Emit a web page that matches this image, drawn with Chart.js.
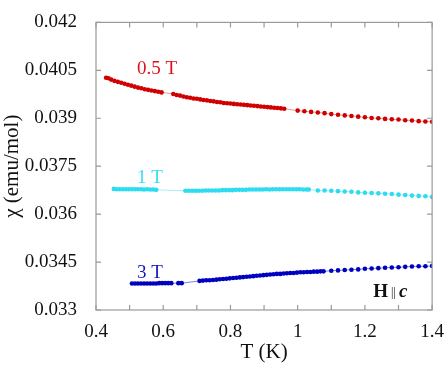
<!DOCTYPE html>
<html>
<head>
<meta charset="utf-8">
<script src="https://cdn.jsdelivr.net/npm/chart.js@4/dist/chart.umd.min.js"></script>
<style>
  body { margin: 0; background: #fff; }
</style>
</head>
<body>
<canvas id="micanvas" width="447" height="365"></canvas>
<script>
// T (K) and chi (emu/mol)
let t05 = [0.430, 0.437, 0.445, 0.455, 0.465, 0.475, 0.485, 0.495, 0.505, 0.515, 0.525, 0.535, 0.545, 0.555, 0.565, 0.575, 0.585, 0.595,
  0.63, 0.64, 0.65, 0.66, 0.67, 0.68, 0.69, 0.70, 0.71, 0.72, 0.73, 0.74, 0.75, 0.76, 0.77, 0.78, 0.79, 0.80, 0.81, 0.82, 0.83, 0.84,
  0.85, 0.86, 0.87, 0.88, 0.89, 0.90, 0.91, 0.92, 0.93, 0.94, 0.95, 0.96,
  1.00, 1.02, 1.04, 1.06, 1.08, 1.10, 1.12, 1.14, 1.16, 1.18, 1.20, 1.22, 1.24, 1.26, 1.28, 1.30, 1.32, 1.34, 1.36, 1.38, 1.40]
let chi05 = [0.04027, 0.04025, 0.04021, 0.04017, 0.04014, 0.04011, 0.04008, 0.04005, 0.04002, 0.03999, 0.03996, 0.03994, 0.03991, 0.03989, 0.03987, 0.03985, 0.03983, 0.03981,
  0.03976, 0.03973, 0.03971, 0.03968, 0.03966, 0.03964, 0.03962, 0.03961, 0.03959, 0.03957, 0.03956, 0.03954, 0.03953, 0.03951, 0.03950, 0.03948, 0.03947, 0.03946, 0.03945, 0.03944, 0.03943, 0.03942,
  0.03941, 0.03940, 0.03939, 0.03938, 0.03937, 0.03936, 0.03935, 0.03934, 0.03933, 0.03932, 0.03931, 0.03930,
  0.03924, 0.03922, 0.03920, 0.03918, 0.03916, 0.03913, 0.03911, 0.03909, 0.03907, 0.03905, 0.03903, 0.03901, 0.03900, 0.03898, 0.03897, 0.03896, 0.03894, 0.03893, 0.03891, 0.03890, 0.03889]

let t1 = [0.453, 0.462, 0.471, 0.480, 0.489, 0.498, 0.507, 0.516, 0.525, 0.534, 0.543, 0.552, 0.561, 0.570, 0.579,
  0.666, 0.676, 0.686, 0.696, 0.706, 0.716, 0.726, 0.736, 0.746, 0.756, 0.766, 0.776, 0.786, 0.796, 0.806, 0.816, 0.826, 0.836, 0.846,
  0.856, 0.866, 0.876, 0.886, 0.896, 0.906, 0.916, 0.926, 0.936, 0.946, 0.956, 0.966, 0.976, 0.986, 0.996, 1.006, 1.016, 1.026, 1.033,
  1.06, 1.08, 1.10, 1.12, 1.14, 1.16, 1.18, 1.20, 1.22, 1.24, 1.26, 1.28, 1.30, 1.32, 1.34, 1.36, 1.38, 1.40]
let chi1 = [0.03679, 0.03678, 0.03678, 0.03678, 0.03678, 0.03678, 0.03678, 0.03678, 0.03678, 0.03678, 0.03677, 0.03678, 0.03677, 0.03677, 0.03676,
  0.03673, 0.03673, 0.03673, 0.03673, 0.03673, 0.03673, 0.03674, 0.03674, 0.03674, 0.03674, 0.03674, 0.03675, 0.03675, 0.03675, 0.03675, 0.03676, 0.03676, 0.03676, 0.03676,
  0.03677, 0.03677, 0.03677, 0.03677, 0.03677, 0.03678, 0.03677, 0.03678, 0.03678, 0.03678, 0.03678, 0.03678, 0.03678, 0.03678, 0.03678, 0.03678, 0.03677, 0.03677, 0.03677,
  0.03674, 0.03674, 0.03673, 0.03672, 0.03671, 0.03670, 0.03668, 0.03667, 0.03666, 0.03665, 0.03664, 0.03663, 0.03661, 0.03660, 0.03658, 0.03657, 0.03656, 0.03654]

let t3 = [0.507, 0.516, 0.525, 0.534, 0.543, 0.552, 0.561, 0.570, 0.579, 0.588, 0.597, 0.606, 0.615, 0.624, 0.645, 0.655,
  0.708, 0.718, 0.728, 0.738, 0.748, 0.758, 0.768, 0.778, 0.788, 0.798, 0.808, 0.818, 0.828, 0.838, 0.848, 0.858, 0.868, 0.878, 0.888,
  0.898, 0.908, 0.918, 0.928, 0.938, 0.948, 0.958, 0.968, 0.978, 0.988, 0.998, 1.008, 1.018, 1.028, 1.038, 1.048, 1.058, 1.068, 1.077,
  1.10, 1.12, 1.14, 1.16, 1.18, 1.20, 1.22, 1.24, 1.26, 1.28, 1.30, 1.32, 1.34, 1.36, 1.38, 1.40]
let chi3 = [0.03383, 0.03383, 0.03383, 0.03383, 0.03383, 0.03383, 0.03383, 0.03383, 0.03383, 0.03384, 0.03384, 0.03384, 0.03384, 0.03384, 0.03384, 0.03384,
  0.03391, 0.03392, 0.03393, 0.03393, 0.03394, 0.03395, 0.03396, 0.03397, 0.03398, 0.03399, 0.03400, 0.03401, 0.03402, 0.03403, 0.03404, 0.03405, 0.03406, 0.03407, 0.03408,
  0.03409, 0.03410, 0.03411, 0.03412, 0.03413, 0.03413, 0.03414, 0.03415, 0.03416, 0.03416, 0.03417, 0.03418, 0.03418, 0.03419, 0.03419, 0.03420, 0.03420, 0.03421, 0.03421,
  0.03423, 0.03424, 0.03425, 0.03426, 0.03427, 0.03429, 0.03430, 0.03431, 0.03432, 0.03433, 0.03434, 0.03435, 0.03436, 0.03437, 0.03437, 0.03438]

let yTicks = [0.033, 0.0345, 0.036, 0.0375, 0.039, 0.0405, 0.042]
let yTickLabels = ["0.033", "0.0345", "0.036", "0.0375", "0.039", "0.0405", "0.042"]
let xTickLabels = { "0.4": "0.4", "0.6": "0.6", "0.8": "0.8", "1": "1", "1.2": "1.2", "1.4": "1.4" }

// curve labels, in data units
let etiquetas = [
  { text: "0.5 T", x: 0.522, y: 0.04055, color: "#e0101a" },
  { text: "1 T", x: 0.522, y: 0.03714, color: "#33e0f0" },
  { text: "3 T", x: 0.522, y: 0.03416, color: "#1515c8" }
]

function puntos(xs, ys) {
  return xs.map((x, i) => ({ x: x, y: ys[i] }))
}

function serie(nombre, xs, ys, punto, linea) {
  return {
    label: nombre,
    data: puntos(xs, ys),
    showLine: true,
    borderColor: linea,
    borderWidth: 1,
    backgroundColor: punto,
    pointBackgroundColor: punto,
    pointBorderColor: punto,
    pointBorderWidth: 0,
    pointRadius: 2.3,
    pointHoverRadius: 2.3
  }
}

const serif = "'Liberation Serif', 'Times New Roman', serif"

// frame, inward ticks on all four sides, and the text labels
const marco = {
  id: 'marco',
  afterDraw(chart) {
    const ctx = chart.ctx
    const a = chart.chartArea
    const xs = chart.scales.x, ys = chart.scales.y
    ctx.save()
    ctx.strokeStyle = '#9a9a9a'
    ctx.lineWidth = 1.2
    ctx.strokeRect(a.left, a.top, a.right - a.left, a.bottom - a.top)
    ctx.beginPath()
    for (let i = 4; i <= 14; i++) {
      const px = xs.getPixelForValue(i / 10)
      ctx.moveTo(px, a.bottom); ctx.lineTo(px, a.bottom - 5)
      ctx.moveTo(px, a.top); ctx.lineTo(px, a.top + 5)
    }
    yTicks.forEach(v => {
      const py = ys.getPixelForValue(v)
      ctx.moveTo(a.left, py); ctx.lineTo(a.left + 5, py)
      ctx.moveTo(a.right, py); ctx.lineTo(a.right - 5, py)
    })
    ctx.stroke()

    ctx.textBaseline = 'middle'
    ctx.textAlign = 'left'
    ctx.font = '19px ' + serif
    etiquetas.forEach(e => {
      ctx.fillStyle = e.color
      ctx.fillText(e.text, xs.getPixelForValue(e.x), ys.getPixelForValue(e.y))
    })

    // H || c
    let hx = xs.getPixelForValue(1.225), hy = ys.getPixelForValue(0.03357)
    ctx.fillStyle = '#111'
    ctx.font = 'bold 19px ' + serif
    ctx.fillText('H', hx, hy)
    hx += ctx.measureText('H').width + 3
    ctx.font = '12px ' + serif
    ctx.fillText('||', hx, hy + 1)
    hx += ctx.measureText('||').width + 3
    ctx.font = 'bold italic 19px ' + serif
    ctx.fillText('c', hx, hy)
    ctx.restore()
  }
}

let contexto = document.getElementById('micanvas').getContext('2d')
let opciones = {
  type: 'scatter',
  data: {
    datasets: [
      serie('0.5 T', t05, chi05, '#d00000', '#e89a9a'),
      serie('1 T', t1, chi1, '#2ddcf0', '#a8eef6'),
      serie('3 T', t3, chi3, '#0000c0', '#8080d8')
    ]
  },
  options: {
    responsive: false,
    animation: false,
    layout: { padding: { left: 0, top: 13, right: 13, bottom: 0 } },
    plugins: { legend: { display: false }, tooltip: { enabled: false } },
    scales: {
      x: {
        type: 'linear',
        min: 0.4,
        max: 1.4,
        afterFit(s) { s.height = 55 },
        grid: { display: false },
        border: { display: false },
        ticks: {
          stepSize: 0.2,
          maxRotation: 0,
          padding: 3,
          color: '#111',
          font: { family: serif, size: 19 },
          callback: v => xTickLabels[String(Math.round(v * 10) / 10)] || ''
        },
        title: {
          display: true,
          text: 'T (K)',
          color: '#111',
          padding: { top: 0, bottom: 0 },
          font: { family: serif, size: 21 }
        }
      },
      y: {
        min: 0.033,
        max: 0.042,
        afterFit(s) { s.width = 96 },
        afterBuildTicks(s) { s.ticks = yTicks.map(v => ({ value: v })) },
        grid: { display: false },
        border: { display: false },
        ticks: {
          padding: 11,
          color: '#111',
          font: { family: serif, size: 19 },
          callback: (v, i) => yTickLabels[i]
        },
        title: {
          display: true,
          text: 'χ (emu/mol)',
          color: '#111',
          padding: { top: 0, bottom: 0 },
          font: { family: serif, size: 21 }
        }
      }
    }
  },
  plugins: [marco]
}

let grafica = new Chart(contexto, opciones)
</script>
</body>
</html>
